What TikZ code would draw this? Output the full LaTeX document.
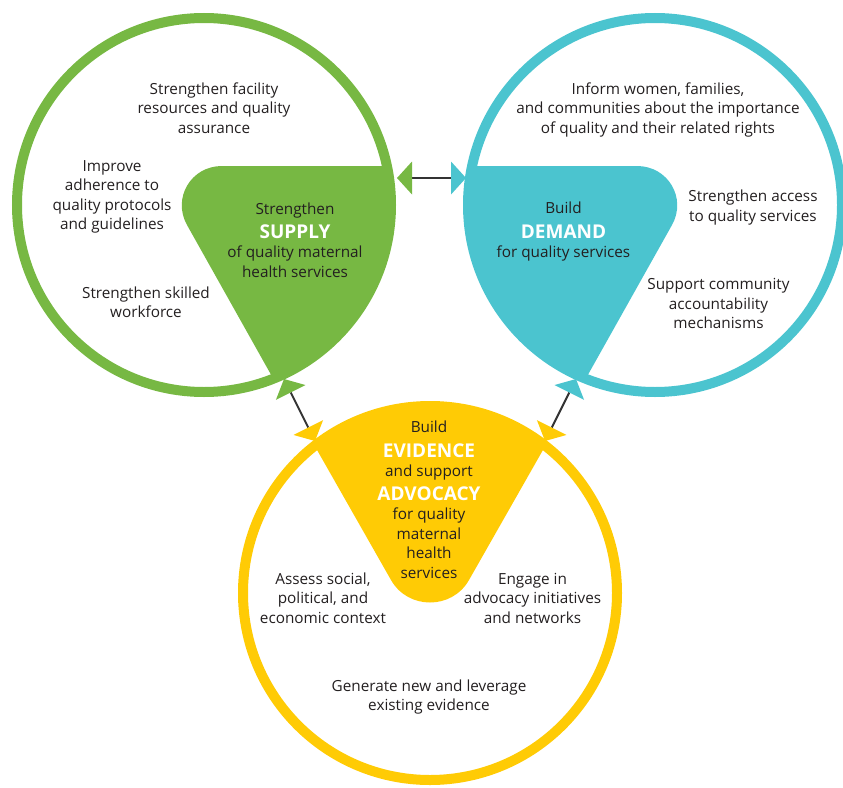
\documentclass[tikz,border=0pt]{standalone}
\usepackage{fontspec}
\setmainfont{Open Sans}
\usetikzlibrary{arrows.meta}
\definecolor{supgreen}{HTML}{77B843}
\definecolor{demblue}{HTML}{4BC4CF}
\definecolor{evyellow}{HTML}{FFCB05}
\definecolor{txtc}{HTML}{231F20}
\definecolor{arrowc}{HTML}{333333}
\newcommand{\bigw}[1]{{\color{white}\bfseries\fontsize{19}{22}\selectfont #1}}
\begin{document}
\begin{tikzpicture}[x=1pt,y=-1pt,
  ring/.style={line width=10pt},
  lbl/.style={align=center, text=txtc, font=\fontsize{15.3}{19.5}\selectfont, inner sep=0pt},
  conn/.style={arrowc, line width=2pt}]
\useasboundingbox (0,0) rectangle (843,787);
\coordinate (gc) at (204,205);
\coordinate (bc) at (655,205);
\coordinate (yc) at (430,593);

% inner shapes
\begin{scope}
  \clip (gc) circle[radius=187pt];
  \fill[supgreen] (420,166) -- (222,166) .. controls (191,166) and (172,198) .. (187,225) -- (297,421) -- (420,421) -- cycle;
\end{scope}
\begin{scope}
  \clip (bc) circle[radius=187pt];
  \fill[demblue] (439,166) -- (637,166) .. controls (668,166) and (687,198) .. (672,225) -- (562,421) -- (439,421) -- cycle;
\end{scope}
\begin{scope}
  \clip (yc) circle[radius=187pt];
  \fill[evyellow] (263,355) -- (391,580) .. controls (408,610) and (452,610) .. (469,580) -- (597,355) -- cycle;
\end{scope}

% rings
\draw[ring, supgreen] (gc) circle[radius=187pt];
\draw[ring, demblue] (bc) circle[radius=187pt];
\draw[ring, evyellow] (yc) circle[radius=187pt];

% connectors
\coordinate (gb1) at (397,178);
\coordinate (gb2) at (466,178);
\coordinate (gy1) at (284,379);
\coordinate (gy2) at (315,441);
\coordinate (by1) at (576,379);
\coordinate (by2) at (545,441);
\draw[conn, {Triangle[length=15pt,width=33pt,line width=0pt,color=supgreen,fill=supgreen]}-{Triangle[length=15pt,width=33pt,line width=0pt,color=demblue,fill=demblue]}] (gb1) -- (gb2);
\draw[conn, {Triangle[length=15pt,width=33pt,line width=0pt,color=supgreen,fill=supgreen]}-{Triangle[length=15pt,width=33pt,line width=0pt,color=evyellow,fill=evyellow]}] (gy1) -- (gy2);
\draw[conn, {Triangle[length=15pt,width=33pt,line width=0pt,color=demblue,fill=demblue]}-{Triangle[length=15pt,width=33pt,line width=0pt,color=evyellow,fill=evyellow]}] (by1) -- (by2);

% green texts
\node[lbl] (g1) at (214,108) {Strengthen facility\\resources and quality\\assurance};
\node[lbl] (g2) at (112,197) {Improve\\adherence to\\quality protocols\\and guidelines};
\node[lbl] (g3) at (146,302.5) {Strengthen skilled\\workforce};
\node[lbl] (gm) at (295,240) {Strengthen\\[5pt]\bigw{SUPPLY}\\[-0.5pt]of quality maternal\\health services};

% blue texts
\node[lbl] (b1) at (658,109.5) {Inform women, families,\\and communities about the importance\\of quality and their related rights};
\node[lbl] (b2) at (753,207.7) {Strengthen access\\to quality services};
\node[lbl] (b3) at (718.5,303.5) {Support community\\accountability\\mechanisms};
\node[lbl] (bm) at (563.5,231.7) {Build\\[5pt]\bigw{DEMAND}\\[-0.5pt]for quality services};

% yellow texts
\node[lbl] (ym) at (429,500) {Build\\[5pt]\bigw{EVIDENCE}\\[-0.5pt]and support\\[5pt]\bigw{ADVOCACY}\\[-0.5pt]for quality\\maternal\\health\\services};
\node[lbl] (y1) at (323,598) {Assess social,\\political, and\\economic context};
\node[lbl] (y2) at (532.5,598) {Engage in\\advocacy initiatives\\and networks};
\node[lbl] (y3) at (429,697) {Generate new and leverage\\existing evidence};
\end{tikzpicture}
\end{document}
